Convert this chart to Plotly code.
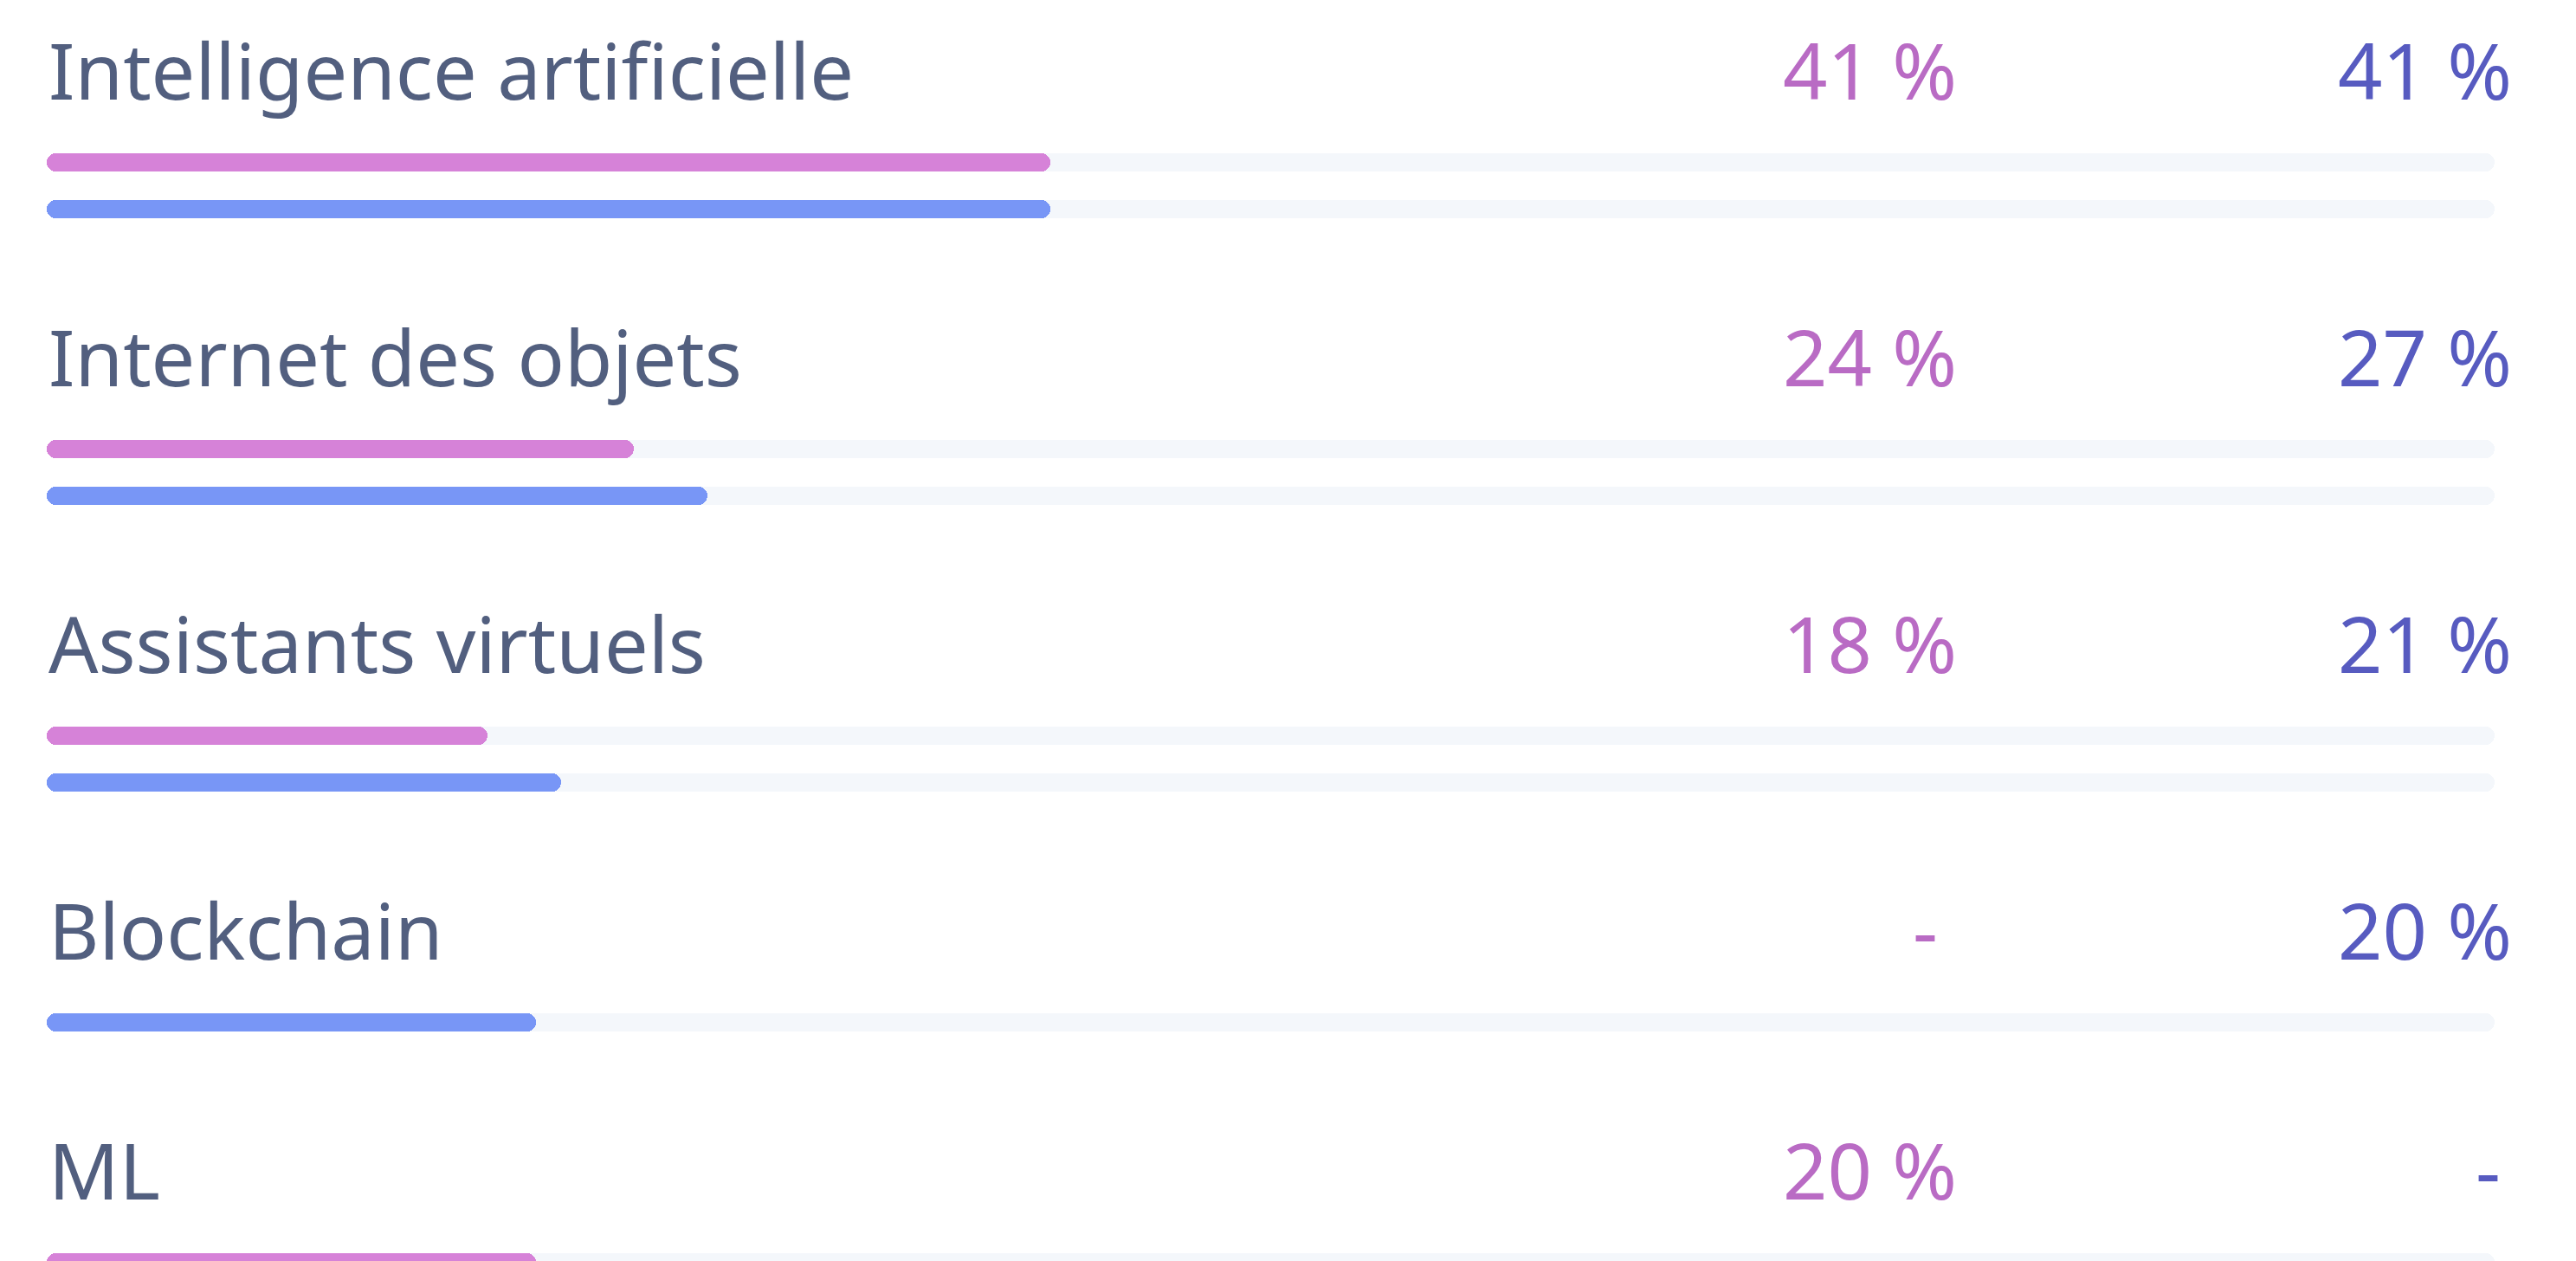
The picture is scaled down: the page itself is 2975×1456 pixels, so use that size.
import plotly.graph_objects as go

# ---- data ----
categories = ["Intelligence artificielle", "Internet des objets", "Assistants virtuels", "Blockchain", "ML"]
series_pink = [41, 24, 18, None, 20]
series_blue = [41, 27, 21, 20, None]
track_max = 100

# ---- style ----
W, H = 2975, 1456
PAGE_OFF = 8  # default body margin of the html page
FONT = "Noto Sans"
FS = 90
TEXT_COLOR = "#525f7f"
PINK_BAR = "#d682d8"
BLUE_BAR = "#7896f6"
PINK_TXT = "#b96bc4"
BLUE_TXT = "#575bc0"
TRACK = "#f4f7fb"
BAR_W = 21
LEFT_PX, RIGHT_PX = 54, 2881

# layout positions (screen pixels on a reversed y axis)
FIRST_ROW = 80
TEXT_TO_BAR = 107
BAR_GAP = 54
ROW_GAP = 170

rows = []
y = FIRST_ROW
for cat, p, b in zip(categories, series_pink, series_blue):
    bars = []
    by = y + TEXT_TO_BAR
    for v, col in ((p, PINK_BAR), (b, BLUE_BAR)):
        if v is not None:
            bars.append((by, v, col))
            by += BAR_GAP
    rows.append((cat, y, p, b, bars))
    y = bars[-1][0] + ROW_GAP

fig = go.Figure()

def capsule(ys, vals, color):
    # forward bar rounds the right end, reversed bar rounds the left end
    fig.add_trace(go.Bar(orientation="h", y=ys, x=vals, base=[0] * len(vals), width=BAR_W,
                         marker=dict(color=color, cornerradius="50%", line=dict(width=0)),
                         hoverinfo="skip", showlegend=False))
    fig.add_trace(go.Bar(orientation="h", y=ys, x=[-v for v in vals], base=vals, width=BAR_W,
                         marker=dict(color=color, cornerradius="50%", line=dict(width=0)),
                         hoverinfo="skip", showlegend=False))

all_bar_y = [bb[0] for r in rows for bb in r[4]]
capsule(all_bar_y, [track_max] * len(all_bar_y), TRACK)
for col in (PINK_BAR, BLUE_BAR):
    ys = [bb[0] for r in rows for bb in r[4] if bb[2] == col]
    vs = [bb[1] for r in rows for bb in r[4] if bb[2] == col]
    capsule(ys, vs, col)

annotations = []
for cat, ty, p, b, bars in rows:
    annotations.append(dict(x=0, y=ty, xref="x", yref="y", text=cat, showarrow=False,
                            xanchor="left", yanchor="middle",
                            font=dict(family=FONT, size=FS, color=TEXT_COLOR)))
    for v, xpx, col, dash_shift in ((p, 2262, PINK_TXT, -22), (b, 2903, BLUE_TXT, -13)):
        txt = f"{v} %" if v is not None else "-"
        annotations.append(dict(x=(xpx - PAGE_OFF) / W, y=ty, xref="paper", yref="y", text=txt,
                                showarrow=False, xanchor="right", yanchor="middle",
                                xshift=0 if v is not None else dash_shift,
                                font=dict(family=FONT, size=FS, color=col)))

px_per_unit = (RIGHT_PX - LEFT_PX) / track_max
x0 = -(LEFT_PX - PAGE_OFF) / px_per_unit
fig.update_layout(
    width=W, height=H,
    margin=dict(l=0, r=0, t=0, b=0),
    paper_bgcolor="white", plot_bgcolor="white",
    barmode="overlay",
    bargap=0,
    xaxis=dict(range=[x0, x0 + W / px_per_unit], visible=False, fixedrange=True),
    yaxis=dict(range=[H + PAGE_OFF, PAGE_OFF], visible=False, fixedrange=True),
    annotations=annotations,
    hovermode=False,
    showlegend=False,
)

fig.write_html("out.html")
